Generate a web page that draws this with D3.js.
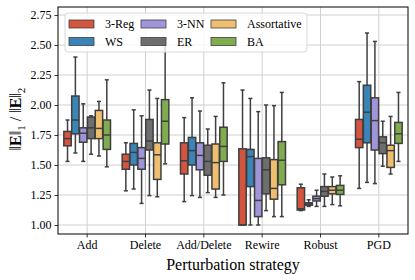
<!DOCTYPE html>
<html>
<head>
<meta charset="utf-8">
<script src="https://cdn.jsdelivr.net/npm/d3@7"></script>
<style>
  html, body { margin: 0; padding: 0; background: #fff; }
  svg { display: block; font-family: "Liberation Serif", "DejaVu Serif", serif; }
</style>
</head>
<body>
<div id="chart"></div>
<script>
// ---- data ----
const strategies = ["Add", "Delete", "Add/Delete", "Rewire", "Robust", "PGD"];
const graphs = ["3-Reg", "WS", "3-NN", "ER", "Assortative", "BA"];
const colours = ["#d4553f", "#3a84b7", "#a095d8", "#6e6e6e", "#efbf6f", "#80ac50"];
const yTicks = [1.00, 1.25, 1.50, 1.75, 2.00, 2.25, 2.50, 2.75];

// each row: [whiskerLow, q1, median, q3, whiskerHigh], one row per graph type
const statsAdd = [
  [1.53, 1.66, 1.72, 1.78, 1.875],
  [1.60, 1.76, 1.875, 2.075, 2.40],
  [1.53, 1.69, 1.765, 1.81, 2.01],
  [1.59, 1.72, 1.81, 1.90, 1.91],
  [1.575, 1.72, 1.805, 1.955, 2.03],
  [1.485, 1.63, 1.75, 1.875, 2.21]
];
const statsDelete = [
  [1.285, 1.465, 1.53, 1.59, 1.685],
  [1.30, 1.50, 1.605, 1.68, 1.96],
  [1.18, 1.465, 1.555, 1.645, 1.91],
  [1.245, 1.625, 1.70, 1.88, 2.125],
  [1.235, 1.38, 1.585, 1.685, 2.055],
  [1.51, 1.675, 1.865, 2.045, 2.55]
];
const statsAddDelete = [
  [1.195, 1.425, 1.535, 1.685, 1.895],
  [1.245, 1.50, 1.62, 1.73, 2.06],
  [1.23, 1.46, 1.58, 1.685, 1.95],
  [1.27, 1.415, 1.53, 1.665, 1.80],
  [1.23, 1.30, 1.52, 1.675, 1.905],
  [1.25, 1.53, 1.655, 1.815, 2.185]
];
const statsRewire = [
  [1.00, 1.00, 1.00, 1.635, 2.125],
  [1.00, 1.32, 1.57, 1.63, 2.055],
  [1.00, 1.07, 1.205, 1.555, 1.945],
  [1.12, 1.26, 1.46, 1.56, 2.00],
  [1.07, 1.215, 1.305, 1.545, 1.995],
  [1.07, 1.335, 1.54, 1.695, 2.105]
];
const statsRobust = [
  [1.12, 1.125, 1.135, 1.31, 1.34],
  [1.155, 1.165, 1.175, 1.185, 1.21],
  [1.155, 1.20, 1.22, 1.24, 1.29],
  [1.155, 1.24, 1.28, 1.32, 1.425],
  [1.17, 1.26, 1.29, 1.32, 1.40],
  [1.16, 1.255, 1.29, 1.33, 1.41]
];
const statsPGD = [
  [1.305, 1.645, 1.715, 1.88, 2.195],
  [1.355, 1.685, 1.94, 2.165, 2.60],
  [1.345, 1.625, 1.87, 2.06, 2.53],
  [1.49, 1.595, 1.685, 1.735, 1.865],
  [1.425, 1.48, 1.62, 1.665, 1.905],
  [1.53, 1.68, 1.76, 1.855, 2.105]
];
const allStats = [statsAdd, statsDelete, statsAddDelete, statsRewire, statsRobust, statsPGD];

// ---- layout ----
const W = 415, H = 280;
const margin = { left: 58, right: 7, top: 7, bottom: 46 };
const edge = "#3f3f3f";

const svg = d3.select("#chart").append("svg")
  .attr("width", W).attr("height", H);

const x = d3.scaleBand()
  .domain(strategies)
  .range([margin.left, W - margin.right])
  .padding(0);

const y = d3.scaleLinear()
  .domain([0.925, 2.817])
  .range([H - margin.bottom, margin.top]);

const xInner = d3.scaleBand()
  .domain(graphs)
  .range([x.bandwidth() * 0.1, x.bandwidth() * 0.9])
  .paddingInner(0.06);

// grid
svg.append("g").selectAll("line.gy").data(yTicks).join("line")
  .attr("x1", margin.left).attr("x2", W - margin.right)
  .attr("y1", d => y(d)).attr("y2", d => y(d))
  .attr("stroke", "#d0d0d0").attr("stroke-width", 1);
svg.append("g").selectAll("line.gx").data(strategies).join("line")
  .attr("x1", d => x(d) + x.bandwidth() / 2).attr("x2", d => x(d) + x.bandwidth() / 2)
  .attr("y1", margin.top).attr("y2", H - margin.bottom)
  .attr("stroke", "#d0d0d0").attr("stroke-width", 1);

// boxes
const groups = svg.append("g").selectAll("g.grp").data(strategies).join("g")
  .attr("transform", d => `translate(${x(d)},0)`);

groups.each(function(s, si) {
  const rows = allStats[si].map((r, gi) => ({ g: graphs[gi], c: colours[gi], r }));
  const g = d3.select(this).selectAll("g.box").data(rows).join("g")
    .attr("transform", d => `translate(${xInner(d.g)},0)`);
  const bw = xInner.bandwidth();
  const cx = bw / 2;
  const capW = bw * 0.55;
  // whiskers
  g.append("line").attr("x1", cx).attr("x2", cx)
    .attr("y1", d => y(d.r[3])).attr("y2", d => y(d.r[4]))
    .attr("stroke", edge).attr("stroke-width", 1.5);
  g.append("line").attr("x1", cx).attr("x2", cx)
    .attr("y1", d => y(d.r[0])).attr("y2", d => y(d.r[1]))
    .attr("stroke", edge).attr("stroke-width", 1.5);
  g.append("line").attr("x1", cx - capW / 2).attr("x2", cx + capW / 2)
    .attr("y1", d => y(d.r[4])).attr("y2", d => y(d.r[4]))
    .attr("stroke", edge).attr("stroke-width", 1.5);
  g.append("line").attr("x1", cx - capW / 2).attr("x2", cx + capW / 2)
    .attr("y1", d => y(d.r[0])).attr("y2", d => y(d.r[0]))
    .attr("stroke", edge).attr("stroke-width", 1.5);
  // box
  g.append("rect")
    .attr("x", 0).attr("width", bw)
    .attr("y", d => y(d.r[3]))
    .attr("height", d => Math.max(0.5, y(d.r[1]) - y(d.r[3])))
    .attr("fill", d => d.c)
    .attr("stroke", edge).attr("stroke-width", 1.5);
  // median
  g.append("line").attr("x1", 0).attr("x2", bw)
    .attr("y1", d => y(d.r[2])).attr("y2", d => y(d.r[2]))
    .attr("stroke", edge).attr("stroke-width", 1.5);
});

// axes
const xAxis = svg.append("g")
  .attr("transform", `translate(0,${H - margin.bottom})`)
  .call(d3.axisBottom(x).tickSize(3.5).tickPadding(3));
const yAxis = svg.append("g")
  .attr("transform", `translate(${margin.left},0)`)
  .call(d3.axisLeft(y).tickValues(yTicks).tickFormat(d3.format(".2f")).tickSize(3.5).tickPadding(3));
[xAxis, yAxis].forEach(a => {
  a.select(".domain").remove();
  a.selectAll("text").attr("font-family", "Liberation Serif").attr("font-size", 12).attr("fill", "#000");
  a.selectAll("line").attr("stroke", "#000").attr("stroke-width", 0.8);
});

// frame
svg.append("rect")
  .attr("x", margin.left).attr("y", margin.top)
  .attr("width", W - margin.left - margin.right)
  .attr("height", H - margin.top - margin.bottom)
  .attr("fill", "none").attr("stroke", "#000").attr("stroke-width", 1);

// axis labels
svg.append("text")
  .attr("x", (margin.left + W - margin.right) / 2).attr("y", 270)
  .attr("text-anchor", "middle").attr("font-size", 16)
  .text("Perturbation strategy");

const yl = svg.append("text")
  .attr("transform", `translate(21,${y(1.75) - 16}) rotate(-90)`)
  .attr("text-anchor", "middle").attr("font-size", 16);
yl.append("tspan").text("‖");
yl.append("tspan").attr("font-weight", "bold").text("E");
yl.append("tspan").text("‖");
yl.append("tspan").attr("font-size", 11).attr("dy", 4).text("1");
yl.append("tspan").attr("dy", -4).text(" / ‖");
yl.append("tspan").attr("font-weight", "bold").text("E");
yl.append("tspan").text("‖");
yl.append("tspan").attr("font-size", 11).attr("dy", 4).text("2");

// legend (3 columns, column-major)
const lg = svg.append("g").attr("transform", "translate(65,13)");
lg.append("rect")
  .attr("width", 242).attr("height", 39).attr("rx", 3)
  .attr("fill", "#fff").attr("fill-opacity", 0.8)
  .attr("stroke", "#d8d8d8").attr("stroke-width", 1);
const colX = [4, 76, 146];
const items = lg.selectAll("g.item").data(graphs).join("g")
  .attr("transform", (d, i) => `translate(${colX[Math.floor(i / 2)]},${7 + (i % 2) * 17.5})`);
items.append("rect")
  .attr("width", 25).attr("height", 8)
  .attr("fill", (d, i) => colours[i])
  .attr("stroke", edge).attr("stroke-width", 0.8);
items.append("text")
  .attr("x", 36).attr("y", 4).attr("dy", "0.35em")
  .attr("font-size", 12)
  .text(d => d);
</script>
</body>
</html>
